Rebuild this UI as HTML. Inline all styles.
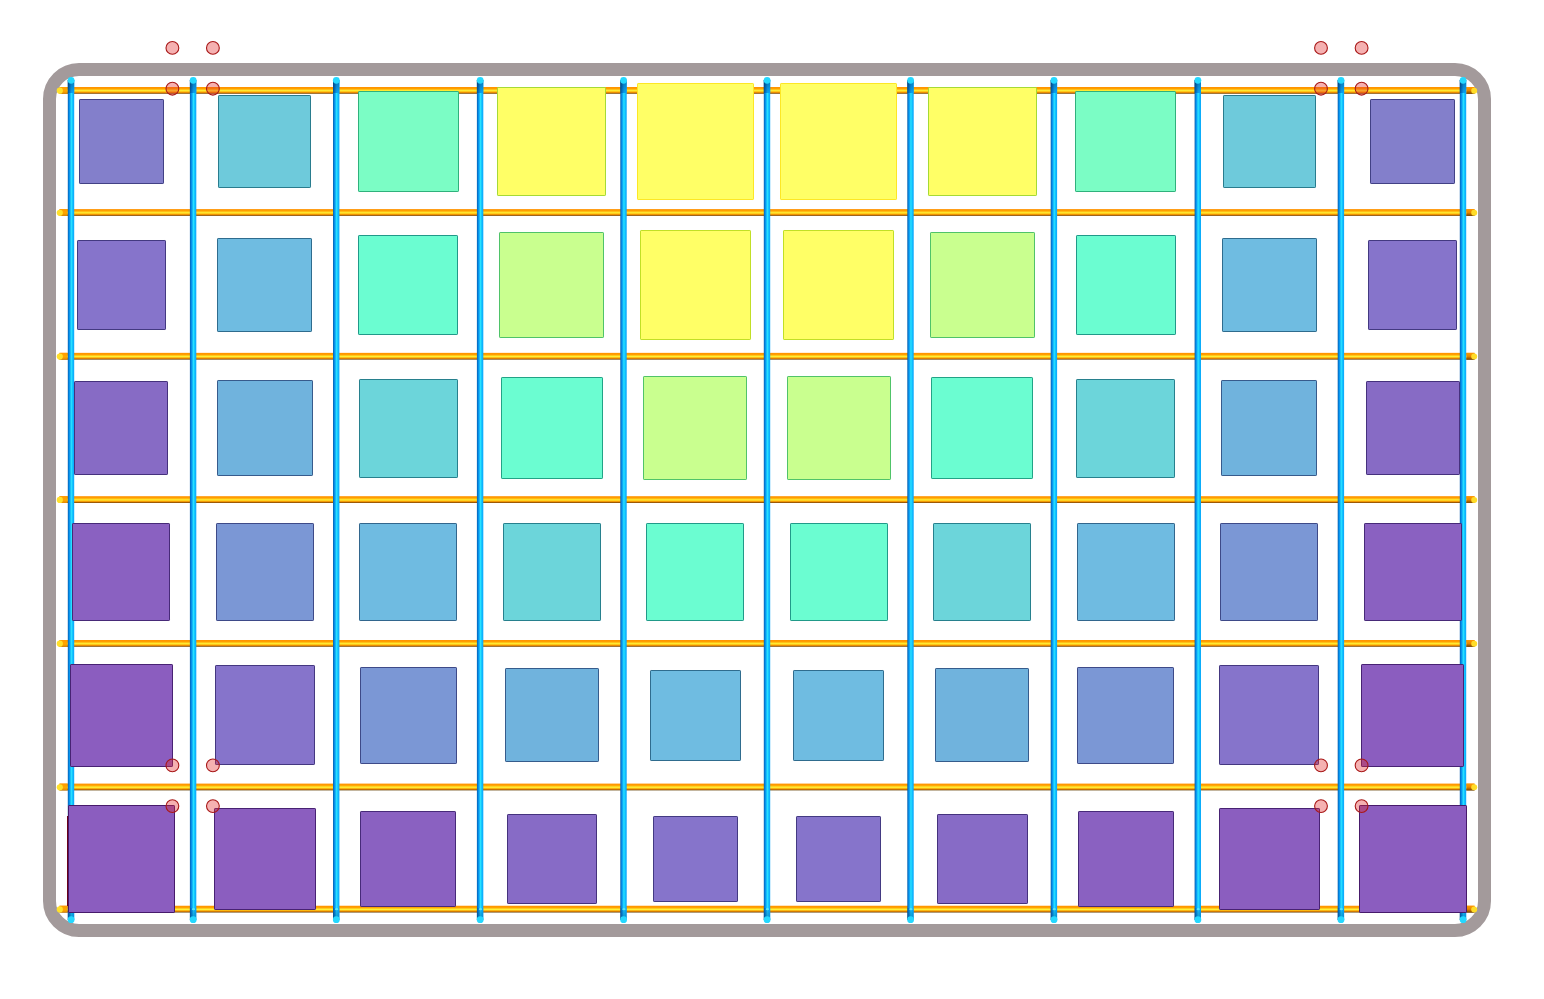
<!DOCTYPE html><html><head><meta charset="utf-8"><title>grid</title>
<style>html,body{margin:0;padding:0;background:#fff}svg{display:block}</style></head><body>
<svg width="1544" height="999" viewBox="0 0 1544 999">
<defs>
<linearGradient id="og" x1="0" y1="0" x2="0" y2="1">
<stop offset="0" stop-color="#ff9000"/><stop offset="0.25" stop-color="#ffa000"/><stop offset="0.42" stop-color="#ffd020"/><stop offset="0.55" stop-color="#fff238"/><stop offset="0.66" stop-color="#ffc818"/><stop offset="0.8" stop-color="#f09000"/><stop offset="0.9" stop-color="#b06000"/><stop offset="1" stop-color="#6a4810"/>
</linearGradient>
<linearGradient id="bg" x1="0" y1="0" x2="1" y2="0">
<stop offset="0" stop-color="#085ca8"/><stop offset="0.12" stop-color="#0478d0"/><stop offset="0.3" stop-color="#089cf4"/><stop offset="0.56" stop-color="#2ae2ff"/><stop offset="0.76" stop-color="#10c0ff"/><stop offset="1" stop-color="#0aa4f8"/>
</linearGradient>
<linearGradient id="bd" x1="0" y1="0" x2="1" y2="0">
<stop offset="0" stop-color="#004a88"/><stop offset="0.35" stop-color="#0070c8"/><stop offset="0.7" stop-color="#0094f0"/><stop offset="1" stop-color="#08a0f8"/>
</linearGradient>
<linearGradient id="oe" x1="0" y1="0" x2="0" y2="1"><stop offset="0" stop-color="#ff9800"/><stop offset="0.5" stop-color="#e88800"/><stop offset="1" stop-color="#7a4400"/></linearGradient>
<linearGradient id="ol" x1="0" y1="0" x2="0" y2="1"><stop offset="0" stop-color="#ff9a00"/><stop offset="0.6" stop-color="#ffa800"/><stop offset="1" stop-color="#e08800"/></linearGradient>
<linearGradient id="sh1" x1="0" y1="0" x2="0" y2="1"><stop offset="0" stop-color="#001830" stop-opacity="0.3"/><stop offset="1" stop-color="#001830" stop-opacity="0"/></linearGradient>
<linearGradient id="sh2" x1="0" y1="0" x2="0" y2="1"><stop offset="0" stop-color="#001830" stop-opacity="0"/><stop offset="1" stop-color="#001830" stop-opacity="0.22"/></linearGradient>
</defs>
<rect width="1544" height="999" fill="#fff"/>
<rect x="49.5" y="69.5" width="1435" height="861" rx="29.5" ry="29.5" fill="none" stroke="#a39a9b" stroke-width="13"/>
<rect x="59.5" y="87.00" width="1415" height="6.8" fill="url(#og)"/>
<rect x="59.5" y="87.00" width="8" height="6.8" fill="url(#ol)"/>
<rect x="1466.5" y="87.00" width="8" height="6.8" fill="url(#oe)"/>
<circle cx="59.8" cy="90.70" r="3.1" fill="#ffe02a"/>
<circle cx="1474.2" cy="90.70" r="3.0" fill="#ffdc28"/>
<rect x="59.5" y="209.10" width="1415" height="6.8" fill="url(#og)"/>
<rect x="59.5" y="209.10" width="8" height="6.8" fill="url(#ol)"/>
<rect x="1466.5" y="209.10" width="8" height="6.8" fill="url(#oe)"/>
<circle cx="59.8" cy="212.80" r="3.1" fill="#ffe02a"/>
<circle cx="1474.2" cy="212.80" r="3.0" fill="#ffdc28"/>
<rect x="59.5" y="352.85" width="1415" height="6.8" fill="url(#og)"/>
<rect x="59.5" y="352.85" width="8" height="6.8" fill="url(#ol)"/>
<rect x="1466.5" y="352.85" width="8" height="6.8" fill="url(#oe)"/>
<circle cx="59.8" cy="356.55" r="3.1" fill="#ffe02a"/>
<circle cx="1474.2" cy="356.55" r="3.0" fill="#ffdc28"/>
<rect x="59.5" y="496.20" width="1415" height="6.8" fill="url(#og)"/>
<rect x="59.5" y="496.20" width="8" height="6.8" fill="url(#ol)"/>
<rect x="1466.5" y="496.20" width="8" height="6.8" fill="url(#oe)"/>
<circle cx="59.8" cy="499.90" r="3.1" fill="#ffe02a"/>
<circle cx="1474.2" cy="499.90" r="3.0" fill="#ffdc28"/>
<rect x="59.5" y="640.00" width="1415" height="6.8" fill="url(#og)"/>
<rect x="59.5" y="640.00" width="8" height="6.8" fill="url(#ol)"/>
<rect x="1466.5" y="640.00" width="8" height="6.8" fill="url(#oe)"/>
<circle cx="59.8" cy="643.70" r="3.1" fill="#ffe02a"/>
<circle cx="1474.2" cy="643.70" r="3.0" fill="#ffdc28"/>
<rect x="59.5" y="783.60" width="1415" height="6.8" fill="url(#og)"/>
<rect x="59.5" y="783.60" width="8" height="6.8" fill="url(#ol)"/>
<rect x="1466.5" y="783.60" width="8" height="6.8" fill="url(#oe)"/>
<circle cx="59.8" cy="787.30" r="3.1" fill="#ffe02a"/>
<circle cx="1474.2" cy="787.30" r="3.0" fill="#ffdc28"/>
<rect x="59.5" y="905.75" width="1415" height="6.8" fill="url(#og)"/>
<rect x="59.5" y="905.75" width="8" height="6.8" fill="url(#ol)"/>
<rect x="1466.5" y="905.75" width="8" height="6.8" fill="url(#oe)"/>
<circle cx="59.8" cy="909.45" r="3.1" fill="#ffe02a"/>
<circle cx="1474.2" cy="909.45" r="3.0" fill="#ffdc28"/>
<rect x="67.80" y="80" width="6.4" height="840" fill="url(#bg)"/>
<rect x="67.80" y="80" width="6.4" height="13" fill="url(#bd)" opacity="0.75"/>
<rect x="67.80" y="908" width="6.4" height="12" fill="url(#bd)" opacity="0.4"/>
<rect x="67.80" y="80" width="6.4" height="13" fill="url(#sh1)"/>
<rect x="67.80" y="908" width="6.4" height="12" fill="url(#sh2)"/>
<ellipse cx="71.40" cy="909.2" rx="1.7" ry="1.1" fill="#5cf4ff" opacity="0.85"/>
<circle cx="71.10" cy="80.3" r="3.4" fill="#24d8ff"/>
<circle cx="71.10" cy="919.7" r="3.4" fill="#24d8ff"/>
<rect x="189.90" y="80" width="6.4" height="840" fill="url(#bg)"/>
<rect x="189.90" y="80" width="6.4" height="13" fill="url(#bd)" opacity="0.75"/>
<rect x="189.90" y="908" width="6.4" height="12" fill="url(#bd)" opacity="0.4"/>
<rect x="189.90" y="80" width="6.4" height="13" fill="url(#sh1)"/>
<rect x="189.90" y="908" width="6.4" height="12" fill="url(#sh2)"/>
<ellipse cx="193.50" cy="909.2" rx="1.7" ry="1.1" fill="#5cf4ff" opacity="0.85"/>
<circle cx="193.20" cy="80.3" r="3.4" fill="#24d8ff"/>
<circle cx="193.20" cy="919.7" r="3.4" fill="#24d8ff"/>
<rect x="333.00" y="80" width="6.4" height="840" fill="url(#bg)"/>
<rect x="333.00" y="80" width="6.4" height="13" fill="url(#bd)" opacity="0.75"/>
<rect x="333.00" y="908" width="6.4" height="12" fill="url(#bd)" opacity="0.4"/>
<rect x="333.00" y="80" width="6.4" height="13" fill="url(#sh1)"/>
<rect x="333.00" y="908" width="6.4" height="12" fill="url(#sh2)"/>
<ellipse cx="336.60" cy="909.2" rx="1.7" ry="1.1" fill="#5cf4ff" opacity="0.85"/>
<circle cx="336.30" cy="80.3" r="3.4" fill="#24d8ff"/>
<circle cx="336.30" cy="919.7" r="3.4" fill="#24d8ff"/>
<rect x="476.90" y="80" width="6.4" height="840" fill="url(#bg)"/>
<rect x="476.90" y="80" width="6.4" height="13" fill="url(#bd)" opacity="0.75"/>
<rect x="476.90" y="908" width="6.4" height="12" fill="url(#bd)" opacity="0.4"/>
<rect x="476.90" y="80" width="6.4" height="13" fill="url(#sh1)"/>
<rect x="476.90" y="908" width="6.4" height="12" fill="url(#sh2)"/>
<ellipse cx="480.50" cy="909.2" rx="1.7" ry="1.1" fill="#5cf4ff" opacity="0.85"/>
<circle cx="480.20" cy="80.3" r="3.4" fill="#24d8ff"/>
<circle cx="480.20" cy="919.7" r="3.4" fill="#24d8ff"/>
<rect x="620.30" y="80" width="6.4" height="840" fill="url(#bg)"/>
<rect x="620.30" y="80" width="6.4" height="13" fill="url(#bd)" opacity="0.75"/>
<rect x="620.30" y="908" width="6.4" height="12" fill="url(#bd)" opacity="0.4"/>
<rect x="620.30" y="80" width="6.4" height="13" fill="url(#sh1)"/>
<rect x="620.30" y="908" width="6.4" height="12" fill="url(#sh2)"/>
<ellipse cx="623.90" cy="909.2" rx="1.7" ry="1.1" fill="#5cf4ff" opacity="0.85"/>
<circle cx="623.60" cy="80.3" r="3.4" fill="#24d8ff"/>
<circle cx="623.60" cy="919.7" r="3.4" fill="#24d8ff"/>
<rect x="763.80" y="80" width="6.4" height="840" fill="url(#bg)"/>
<rect x="763.80" y="80" width="6.4" height="13" fill="url(#bd)" opacity="0.75"/>
<rect x="763.80" y="908" width="6.4" height="12" fill="url(#bd)" opacity="0.4"/>
<rect x="763.80" y="80" width="6.4" height="13" fill="url(#sh1)"/>
<rect x="763.80" y="908" width="6.4" height="12" fill="url(#sh2)"/>
<ellipse cx="767.40" cy="909.2" rx="1.7" ry="1.1" fill="#5cf4ff" opacity="0.85"/>
<circle cx="767.10" cy="80.3" r="3.4" fill="#24d8ff"/>
<circle cx="767.10" cy="919.7" r="3.4" fill="#24d8ff"/>
<rect x="907.30" y="80" width="6.4" height="840" fill="url(#bg)"/>
<rect x="907.30" y="80" width="6.4" height="13" fill="url(#bd)" opacity="0.75"/>
<rect x="907.30" y="908" width="6.4" height="12" fill="url(#bd)" opacity="0.4"/>
<rect x="907.30" y="80" width="6.4" height="13" fill="url(#sh1)"/>
<rect x="907.30" y="908" width="6.4" height="12" fill="url(#sh2)"/>
<ellipse cx="910.90" cy="909.2" rx="1.7" ry="1.1" fill="#5cf4ff" opacity="0.85"/>
<circle cx="910.60" cy="80.3" r="3.4" fill="#24d8ff"/>
<circle cx="910.60" cy="919.7" r="3.4" fill="#24d8ff"/>
<rect x="1050.70" y="80" width="6.4" height="840" fill="url(#bg)"/>
<rect x="1050.70" y="80" width="6.4" height="13" fill="url(#bd)" opacity="0.75"/>
<rect x="1050.70" y="908" width="6.4" height="12" fill="url(#bd)" opacity="0.4"/>
<rect x="1050.70" y="80" width="6.4" height="13" fill="url(#sh1)"/>
<rect x="1050.70" y="908" width="6.4" height="12" fill="url(#sh2)"/>
<ellipse cx="1054.30" cy="909.2" rx="1.7" ry="1.1" fill="#5cf4ff" opacity="0.85"/>
<circle cx="1054.00" cy="80.3" r="3.4" fill="#24d8ff"/>
<circle cx="1054.00" cy="919.7" r="3.4" fill="#24d8ff"/>
<rect x="1194.60" y="80" width="6.4" height="840" fill="url(#bg)"/>
<rect x="1194.60" y="80" width="6.4" height="13" fill="url(#bd)" opacity="0.75"/>
<rect x="1194.60" y="908" width="6.4" height="12" fill="url(#bd)" opacity="0.4"/>
<rect x="1194.60" y="80" width="6.4" height="13" fill="url(#sh1)"/>
<rect x="1194.60" y="908" width="6.4" height="12" fill="url(#sh2)"/>
<ellipse cx="1198.20" cy="909.2" rx="1.7" ry="1.1" fill="#5cf4ff" opacity="0.85"/>
<circle cx="1197.90" cy="80.3" r="3.4" fill="#24d8ff"/>
<circle cx="1197.90" cy="919.7" r="3.4" fill="#24d8ff"/>
<rect x="1337.70" y="80" width="6.4" height="840" fill="url(#bg)"/>
<rect x="1337.70" y="80" width="6.4" height="13" fill="url(#bd)" opacity="0.75"/>
<rect x="1337.70" y="908" width="6.4" height="12" fill="url(#bd)" opacity="0.4"/>
<rect x="1337.70" y="80" width="6.4" height="13" fill="url(#sh1)"/>
<rect x="1337.70" y="908" width="6.4" height="12" fill="url(#sh2)"/>
<ellipse cx="1341.30" cy="909.2" rx="1.7" ry="1.1" fill="#5cf4ff" opacity="0.85"/>
<circle cx="1341.00" cy="80.3" r="3.4" fill="#24d8ff"/>
<circle cx="1341.00" cy="919.7" r="3.4" fill="#24d8ff"/>
<rect x="1459.80" y="80" width="6.4" height="840" fill="url(#bg)"/>
<rect x="1459.80" y="80" width="6.4" height="13" fill="url(#bd)" opacity="0.75"/>
<rect x="1459.80" y="908" width="6.4" height="12" fill="url(#bd)" opacity="0.4"/>
<rect x="1459.80" y="80" width="6.4" height="13" fill="url(#sh1)"/>
<rect x="1459.80" y="908" width="6.4" height="12" fill="url(#sh2)"/>
<ellipse cx="1463.40" cy="909.2" rx="1.7" ry="1.1" fill="#5cf4ff" opacity="0.85"/>
<circle cx="1463.10" cy="80.3" r="3.4" fill="#24d8ff"/>
<circle cx="1463.10" cy="919.7" r="3.4" fill="#24d8ff"/>
<rect x="67" y="816" width="3" height="90" fill="#6a0018"/>
<rect x="79.5" y="99.5" width="84" height="84" rx="0.6" fill="#837fcb" stroke="#424185" stroke-width="1"/>
<rect x="218.5" y="95.5" width="92" height="92" rx="0.6" fill="#6ecadb" stroke="#297c8e" stroke-width="1"/>
<rect x="358.5" y="91.5" width="100" height="100" rx="0.6" fill="#7bfdc5" stroke="#30b17c" stroke-width="1"/>
<rect x="497.5" y="87.5" width="108" height="108" rx="0.6" fill="#ffff66" stroke="#a6da35" stroke-width="1"/>
<rect x="637.5" y="83.5" width="116" height="116" rx="0.6" fill="#ffff66" stroke="#fde725" stroke-width="1"/>
<rect x="780.5" y="83.5" width="116" height="116" rx="0.6" fill="#ffff66" stroke="#fde725" stroke-width="1"/>
<rect x="928.5" y="87.5" width="108" height="108" rx="0.6" fill="#ffff66" stroke="#a6da35" stroke-width="1"/>
<rect x="1075.5" y="91.5" width="100" height="100" rx="0.6" fill="#7bfdc5" stroke="#30b17c" stroke-width="1"/>
<rect x="1223.5" y="95.5" width="92" height="92" rx="0.6" fill="#6ecadb" stroke="#297c8e" stroke-width="1"/>
<rect x="1370.5" y="99.5" width="84" height="84" rx="0.6" fill="#837fcb" stroke="#424185" stroke-width="1"/>
<rect x="77.5" y="240.5" width="88" height="89" rx="0.6" fill="#8674cb" stroke="#433981" stroke-width="1"/>
<rect x="217.5" y="238.5" width="94" height="93" rx="0.6" fill="#6fbce1" stroke="#2f6c8e" stroke-width="1"/>
<rect x="358.5" y="235.5" width="99" height="99" rx="0.6" fill="#6bfdd1" stroke="#219989" stroke-width="1"/>
<rect x="499.5" y="232.5" width="104" height="105" rx="0.6" fill="#c9ff8f" stroke="#4fc369" stroke-width="1"/>
<rect x="640.5" y="230.5" width="110" height="109" rx="0.6" fill="#ffff66" stroke="#c1df26" stroke-width="1"/>
<rect x="783.5" y="230.5" width="110" height="109" rx="0.6" fill="#ffff66" stroke="#c1df26" stroke-width="1"/>
<rect x="930.5" y="232.5" width="104" height="105" rx="0.6" fill="#c9ff8f" stroke="#4fc369" stroke-width="1"/>
<rect x="1076.5" y="235.5" width="99" height="99" rx="0.6" fill="#6bfdd1" stroke="#219989" stroke-width="1"/>
<rect x="1222.5" y="238.5" width="94" height="93" rx="0.6" fill="#6fbce1" stroke="#2f6c8e" stroke-width="1"/>
<rect x="1368.5" y="240.5" width="88" height="89" rx="0.6" fill="#8674cb" stroke="#433981" stroke-width="1"/>
<rect x="74.5" y="381.5" width="93" height="93" rx="0.6" fill="#876bc5" stroke="#45317d" stroke-width="1"/>
<rect x="217.5" y="380.5" width="95" height="95" rx="0.6" fill="#70b3dd" stroke="#375b8c" stroke-width="1"/>
<rect x="359.5" y="379.5" width="98" height="98" rx="0.6" fill="#6cd5da" stroke="#27808d" stroke-width="1"/>
<rect x="501.5" y="377.5" width="101" height="101" rx="0.6" fill="#6bfdd1" stroke="#22a386" stroke-width="1"/>
<rect x="643.5" y="376.5" width="103" height="103" rx="0.6" fill="#c9ff8f" stroke="#50c369" stroke-width="1"/>
<rect x="787.5" y="376.5" width="103" height="103" rx="0.6" fill="#c9ff8f" stroke="#50c369" stroke-width="1"/>
<rect x="931.5" y="377.5" width="101" height="101" rx="0.6" fill="#6bfdd1" stroke="#22a386" stroke-width="1"/>
<rect x="1076.5" y="379.5" width="98" height="98" rx="0.6" fill="#6cd5da" stroke="#27808d" stroke-width="1"/>
<rect x="1221.5" y="380.5" width="95" height="95" rx="0.6" fill="#70b3dd" stroke="#375b8c" stroke-width="1"/>
<rect x="1366.5" y="381.5" width="93" height="93" rx="0.6" fill="#876bc5" stroke="#45317d" stroke-width="1"/>
<rect x="72.5" y="523.5" width="97" height="97" rx="0.6" fill="#8a61c1" stroke="#472a78" stroke-width="1"/>
<rect x="216.5" y="523.5" width="97" height="97" rx="0.6" fill="#7b97d5" stroke="#3e4a88" stroke-width="1"/>
<rect x="359.5" y="523.5" width="97" height="97" rx="0.6" fill="#6fbbe1" stroke="#32668d" stroke-width="1"/>
<rect x="503.5" y="523.5" width="97" height="97" rx="0.6" fill="#6cd5da" stroke="#27808d" stroke-width="1"/>
<rect x="646.5" y="523.5" width="97" height="97" rx="0.6" fill="#6bfdd1" stroke="#219a89" stroke-width="1"/>
<rect x="790.5" y="523.5" width="97" height="97" rx="0.6" fill="#6bfdd1" stroke="#219a89" stroke-width="1"/>
<rect x="933.5" y="523.5" width="97" height="97" rx="0.6" fill="#6cd5da" stroke="#27808d" stroke-width="1"/>
<rect x="1077.5" y="523.5" width="97" height="97" rx="0.6" fill="#6fbbe1" stroke="#32668d" stroke-width="1"/>
<rect x="1220.5" y="523.5" width="97" height="97" rx="0.6" fill="#7b97d5" stroke="#3e4a88" stroke-width="1"/>
<rect x="1364.5" y="523.5" width="97" height="97" rx="0.6" fill="#8a61c1" stroke="#472a78" stroke-width="1"/>
<rect x="70.5" y="664.5" width="102" height="102" rx="0.6" fill="#8b5dbf" stroke="#482273" stroke-width="1"/>
<rect x="215.5" y="665.5" width="99" height="99" rx="0.6" fill="#8674cb" stroke="#443780" stroke-width="1"/>
<rect x="360.5" y="667.5" width="96" height="96" rx="0.6" fill="#7b97d5" stroke="#3e4a88" stroke-width="1"/>
<rect x="505.5" y="668.5" width="93" height="93" rx="0.6" fill="#70b3dd" stroke="#365c8c" stroke-width="1"/>
<rect x="650.5" y="670.5" width="90" height="90" rx="0.6" fill="#6fbce1" stroke="#2f6c8e" stroke-width="1"/>
<rect x="793.5" y="670.5" width="90" height="90" rx="0.6" fill="#6fbce1" stroke="#2f6c8e" stroke-width="1"/>
<rect x="935.5" y="668.5" width="93" height="93" rx="0.6" fill="#70b3dd" stroke="#365c8c" stroke-width="1"/>
<rect x="1077.5" y="667.5" width="96" height="96" rx="0.6" fill="#7b97d5" stroke="#3e4a88" stroke-width="1"/>
<rect x="1219.5" y="665.5" width="99" height="99" rx="0.6" fill="#8674cb" stroke="#443780" stroke-width="1"/>
<rect x="1361.5" y="664.5" width="102" height="102" rx="0.6" fill="#8b5dbf" stroke="#482273" stroke-width="1"/>
<rect x="68.5" y="805.5" width="106" height="107" rx="0.6" fill="#8b5dbf" stroke="#471a6b" stroke-width="1"/>
<rect x="214.5" y="808.5" width="101" height="101" rx="0.6" fill="#8b5ebf" stroke="#482273" stroke-width="1"/>
<rect x="360.5" y="811.5" width="95" height="95" rx="0.6" fill="#8a61c1" stroke="#472a79" stroke-width="1"/>
<rect x="507.5" y="814.5" width="89" height="89" rx="0.6" fill="#876bc6" stroke="#45327d" stroke-width="1"/>
<rect x="653.5" y="816.5" width="84" height="85" rx="0.6" fill="#8674cb" stroke="#433a82" stroke-width="1"/>
<rect x="796.5" y="816.5" width="84" height="85" rx="0.6" fill="#8674cb" stroke="#433a82" stroke-width="1"/>
<rect x="937.5" y="814.5" width="90" height="89" rx="0.6" fill="#876bc6" stroke="#45327d" stroke-width="1"/>
<rect x="1078.5" y="811.5" width="95" height="95" rx="0.6" fill="#8a61c1" stroke="#472a79" stroke-width="1"/>
<rect x="1219.5" y="808.5" width="100" height="101" rx="0.6" fill="#8b5ebf" stroke="#482273" stroke-width="1"/>
<rect x="1359.5" y="805.5" width="107" height="107" rx="0.6" fill="#8b5dbf" stroke="#471a6b" stroke-width="1"/>
<circle cx="172.4" cy="47.9" r="6.4" fill="rgba(227,43,43,0.37)" stroke="#a81818" stroke-width="1.1"/>
<circle cx="172.4" cy="88.7" r="6.4" fill="rgba(227,43,43,0.37)" stroke="#a81818" stroke-width="1.1"/>
<circle cx="172.4" cy="765.4" r="6.4" fill="rgba(227,43,43,0.37)" stroke="#a81818" stroke-width="1.1"/>
<circle cx="172.4" cy="806.1" r="6.4" fill="rgba(227,43,43,0.37)" stroke="#a81818" stroke-width="1.1"/>
<circle cx="212.9" cy="47.9" r="6.4" fill="rgba(227,43,43,0.37)" stroke="#a81818" stroke-width="1.1"/>
<circle cx="212.9" cy="88.7" r="6.4" fill="rgba(227,43,43,0.37)" stroke="#a81818" stroke-width="1.1"/>
<circle cx="212.9" cy="765.4" r="6.4" fill="rgba(227,43,43,0.37)" stroke="#a81818" stroke-width="1.1"/>
<circle cx="212.9" cy="806.1" r="6.4" fill="rgba(227,43,43,0.37)" stroke="#a81818" stroke-width="1.1"/>
<circle cx="1321.0" cy="47.9" r="6.4" fill="rgba(227,43,43,0.37)" stroke="#a81818" stroke-width="1.1"/>
<circle cx="1321.0" cy="88.7" r="6.4" fill="rgba(227,43,43,0.37)" stroke="#a81818" stroke-width="1.1"/>
<circle cx="1321.0" cy="765.4" r="6.4" fill="rgba(227,43,43,0.37)" stroke="#a81818" stroke-width="1.1"/>
<circle cx="1321.0" cy="806.1" r="6.4" fill="rgba(227,43,43,0.37)" stroke="#a81818" stroke-width="1.1"/>
<circle cx="1361.6" cy="47.9" r="6.4" fill="rgba(227,43,43,0.37)" stroke="#a81818" stroke-width="1.1"/>
<circle cx="1361.6" cy="88.7" r="6.4" fill="rgba(227,43,43,0.37)" stroke="#a81818" stroke-width="1.1"/>
<circle cx="1361.6" cy="765.4" r="6.4" fill="rgba(227,43,43,0.37)" stroke="#a81818" stroke-width="1.1"/>
<circle cx="1361.6" cy="806.1" r="6.4" fill="rgba(227,43,43,0.37)" stroke="#a81818" stroke-width="1.1"/>
</svg></body></html>
